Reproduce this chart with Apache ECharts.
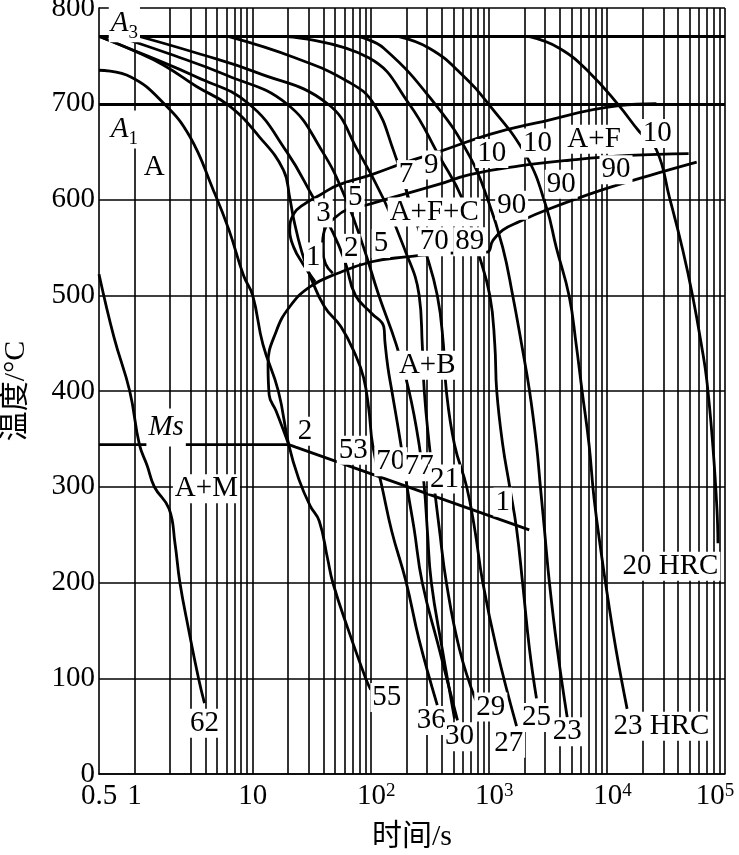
<!DOCTYPE html>
<html>
<head>
<meta charset="utf-8">
<script src="https://cdn.jsdelivr.net/npm/echarts@6.0.0/dist/echarts.min.js"></script>
<style>
  html, body { margin: 0; padding: 0; background: #fff; }
  #cct { width: 739px; height: 855px; }
</style>
</head>
<body>
<div id="cct"></div>
<script>
// time axis decades (s) for the vertical grid
const decades = [1, 10, 100, 1000, 10000];
const timeMax = 100000;
const a3Temp = 770;
const a1Temp = 700;

// Ms line, [time s, temperature C]
const msLine = [[0.5, 344], [20.2, 344], [2200, 255]];

// cooling curves, named after the hardness at the end
const curve62 = [[0.5,522],[0.67,456],[0.91,400],[1.1,344],[1.28,322],[1.47,300],[1.96,277],[2.2,241],[2.42,200],[2.87,151],[3.48,100],[3.91,74]];
const curve55 = [[0.5,735],[0.93,728],[1.78,700],[2.93,666],[4.64,610],[6.31,568],[8.41,520],[10,500],[12.2,449],[16.5,400],[20.2,344],[24.6,308],[30.7,280],[36.7,264],[43.1,225],[47.7,200],[64.4,151],[90.5,100],[100,88]];
const curve36 = [[0.51,770],[1,755],[1.78,740],[3.35,718],[6.31,698],[11.3,666],[18.2,631],[20.6,602],[22.3,579],[26.1,545],[30.7,520],[40.6,488],[56,467],[74.1,438],[87,414],[96.1,382],[104,343],[124,301],[151,253],[199,201],[257,140],[366,72]];
const curve30a = [[0.51,770],[1.28,750],[3.35,728],[9.26,700],[19.4,650],[33.3,600],[47.7,566],[60.6,535],[74.1,500],[102,481],[129,467],[132,451],[140,424],[151,400],[180,344],[203,300],[233,256],[273,200],[381,130],[543,56]];
const curve30b = [[0.73,770],[1.88,753],[5.96,730],[19.4,700],[39,650],[61.8,600],[87,550],[117,500],[164,449],[211,400],[257,344],[284,300],[301,256],[326,200],[404,130],[512,58]];
const curve29 = [[1.12,770],[3.35,753],[10.6,733],[43.1,700],[78.7,650],[129,600],[191,550],[257,500],[273,449],[284,400],[313,344],[345,300],[381,256],[437,200],[565,130],[774,77]];
const curve27 = [[6.31,770],[22.8,748],[64.4,723],[106,700],[157,650],[211,600],[284,550],[366,500],[412,449],[437,400],[512,344],[649,300],[759,256],[889,200],[1167,130],[1718,50]];
const curve25 = [[19.4,770],[96.1,748],[211,700],[381,645],[600,600],[789,550],[1019,500],[1123,449],[1167,400],[1311,344],[1502,300],[1718,256],[1930,200],[2212,130],[2532,79]];
const curve23 = [[78.7,770],[129,758],[359,698],[689,645],[980,600],[1311,550],[1592,500],[1893,449],[2212,400],[2532,344],[2733,300],[2955,256],[3258,200],[3804,130],[4613,59]];
const curve23hrc = [[173,770],[313,758],[565,733],[1019,698],[2084,645],[3069,592],[3724,550],[4793,499],[5488,449],[6162,400],[7060,344],[7782,288],[9087,225],[10000,190],[11940,130],[14830,68]];
const curve20hrc = [[2212,770],[3954,758],[7060,733],[12660,698],[18780,671],[26240,652],[33880,602],[43740,548],[53250,499],[63560,446],[70130,411],[78870,343],[85450,277],[87170,241]];

// transformation lines
const ferriteStart = [[33.9,514],[26.6,533],[22.3,550],[20.6,568],[22.3,585],[27.2,595],[37.5,605],[52.7,615],[102,626],[199,639],[381,650],[1019,668],[2532,680],[12660,698],[26240,700]];
const pearliteStart = [[47.7,523],[41.4,533],[39,550],[40.6,568],[49.7,581],[64.4,590],[90.5,594],[151,602],[381,616],[689,626],[1824,635],[4793,641],[15400,646],[49200,648]];
const bainiteStart = [[20.2,344],[15.8,379],[13.8,396],[13.5,428],[15.8,462],[20.6,488],[30.7,509],[52.7,523],[102,535],[199,540],[464,544],[961,545],[1081,557],[1311,568],[1824,577],[3069,589],[9087,610],[22850,625],[57600,639]];

// texts: [time, temperature, text]
const phaseLabels = [[0.82,784,'{i|A}{sub|3}'],[0.82,673,'{i|A}{sub|1}'],[1.47,634,'A'],[345,587,'A+F+C'],[7782,663,'A+F'],[301,427,'A+B'],[4.06,298,'A+M'],[1.85,362,'{i|Ms}']];
const ferriteLabels = [[39.8,586,'3'],[74.1,602,'5'],[199,626,'7'],[326,636,'9'],[1060,648,'10'],[2582,659,'10'],[26720,669,'10']];
const pearliteLabels = [[32.6,540,'1'],[68.5,549,'2'],[122,554,'5'],[345,556,'70'],[689,556,'89'],[1561,594,'90'],[4100,616,'90'],[11940,631,'90']];
const martensiteLabels = [[27.8,358,'2'],[71.1,338,'53'],[148,326,'70'],[257,321,'77'],[421,308,'21'],[1311,284,'1']];
const hardnessLabels = [[3.91,53,'62'],[137,80,'55'],[326,56,'36'],[565,39,'30'],[1040,70,'29'],[1472,32,'27'],[2532,59,'25'],[4613,44,'23'],[28970,50,'23 HRC'],[34500,217,'20 HRC']];

const serif = '"Liberation Serif", "Times New Roman", "Noto Sans CJK SC", serif';
const gridTimes = [];
decades.forEach(d => { for (let k = 1; k <= 9; k++) gridTimes.push(k * d); });
gridTimes.push(timeMax);

const coolingCurves = [curve62, curve55, curve36, curve30a, curve30b, curve29, curve27, curve25, curve23, curve23hrc, curve20hrc];
const transformLines = [ferriteStart, pearliteStart, bainiteStart];

function lineSeries(data) {
  return {
    type: 'line', data: data, symbol: 'none', smooth: 0.45,
    z: 3, silent: true,
    lineStyle: { color: '#000', width: 2.8 }
  };
}

const series = [];
series.push({
  type: 'line', data: msLine, symbol: 'none', z: 2, silent: true,
  lineStyle: { color: '#000', width: 2.8 },
  markLine: {
    silent: true, symbol: 'none', animation: false,
    label: { show: false },
    lineStyle: { color: '#000', width: 1.6, type: 'solid' },
    data: gridTimes.map(v => ({ xAxis: v }))
      .concat([{ yAxis: a3Temp, lineStyle: { width: 3 } }, { yAxis: a1Temp, lineStyle: { width: 3 } }])
  }
});
coolingCurves.forEach(c => series.push(lineSeries(c)));
transformLines.forEach(c => series.push(lineSeries(c)));

const allLabels = phaseLabels.concat(ferriteLabels, pearliteLabels, martensiteLabels, hardnessLabels);
series.push({
  type: 'scatter', data: allLabels, symbolSize: 0, z: 10, silent: true,
  itemStyle: { color: '#000' },
  label: {
    show: true, position: 'inside', formatter: p => p.value[2],
    color: '#000', fontSize: 29, fontFamily: serif,
    textBorderWidth: 0, textShadowBlur: 0, opacity: 1,
    backgroundColor: '#fff', padding: [0, 2],
    rich: {
      i: { fontStyle: 'italic', fontSize: 29, fontFamily: serif, lineHeight: 38, color: '#000' },
      sub: { fontSize: 19, fontFamily: serif, verticalAlign: 'bottom', color: '#000' }
    }
  }
});

const chart = echarts.init(document.getElementById('cct'));
chart.setOption({
  animation: false,
  backgroundColor: '#fff',
  grid: { left: 99, right: 14, top: 8, bottom: 81, outerBoundsMode: 'none' },
  xAxis: {
    type: 'log', logBase: 10, min: 0.5, max: timeMax,
    axisLine: { lineStyle: { color: '#000', width: 1.6 } },
    axisTick: { show: false },
    splitLine: { show: false },
    axisLabel: {
      margin: 8, color: '#000', fontSize: 29, fontFamily: serif,
      formatter: v => {
        if (v < 0.9) return '0.5';
        const e = Math.round(Math.log10(v));
        if (e === 0) return '1';
        if (e === 1) return '10';
        if (e === 5) return '10{s|5}{q| }';
        return '{p| }10{s|' + e + '}';
      },
      rich: {
        p: { width: 11, fontSize: 19 },
        q: { width: 20, fontSize: 19 },
        s: { fontSize: 19, fontFamily: serif, verticalAlign: 'top' }
      }
    },
    name: '时间/s', nameLocation: 'middle', nameGap: 48,
    nameTextStyle: { color: '#000', fontSize: 30, fontFamily: serif }
  },
  yAxis: {
    type: 'value', min: 0, max: 800, interval: 100,
    axisLine: { show: true, lineStyle: { color: '#000', width: 1.6 } },
    axisTick: { show: false },
    splitLine: { show: true, lineStyle: { color: '#000', width: 1.6 } },
    axisLabel: { margin: 4, color: '#000', fontSize: 29, fontFamily: serif },
    name: '温度/°C', nameLocation: 'middle', nameGap: 68, nameRotate: 90,
    nameTextStyle: { color: '#000', fontSize: 30, fontFamily: serif }
  },
  series: series
});
</script>
</body>
</html>
